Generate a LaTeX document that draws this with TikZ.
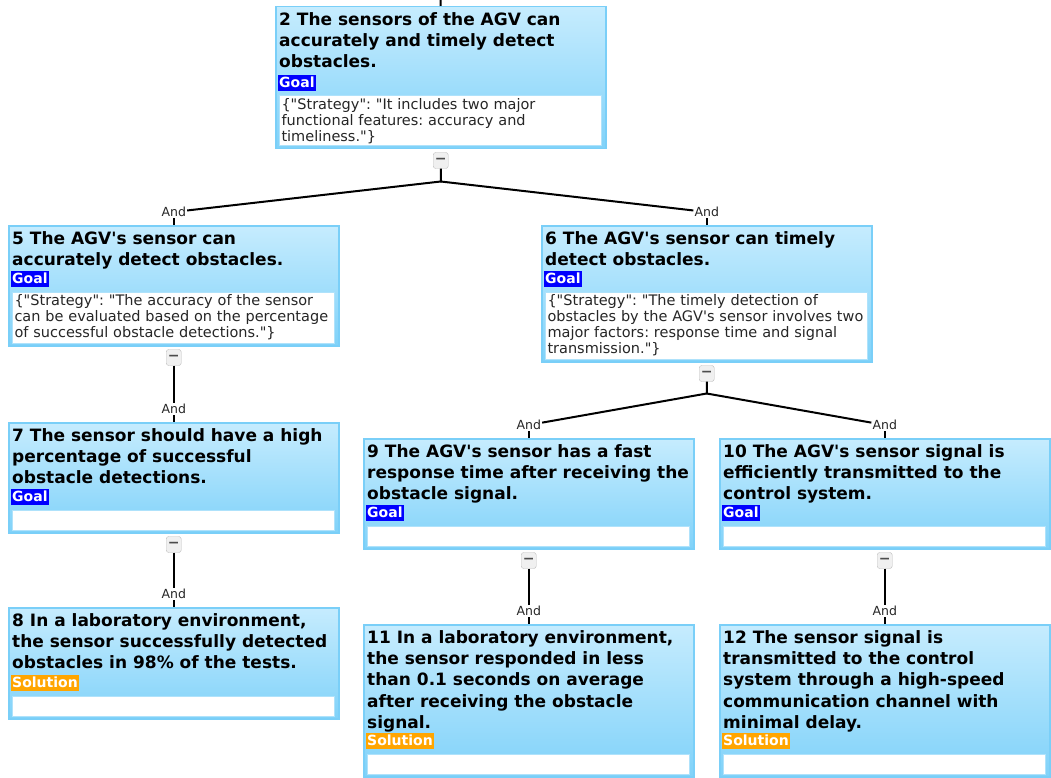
\documentclass[tikz,border=0pt]{standalone}
\usepackage{fontspec}
\setmainfont{DejaVu Sans}[Ligatures=TeXOff]
\usetikzlibrary{positioning}
\definecolor{boxtop}{HTML}{C6ECFE}
\definecolor{boxbot}{HTML}{80D2F9}
\definecolor{boxline}{HTML}{7ACFF8}
\definecolor{goalblue}{HTML}{0000FF}
\definecolor{solorange}{HTML}{FFA500}
\definecolor{btnline}{HTML}{BDBDBD}
\definecolor{btnfill}{HTML}{F0F0F0}

\begin{document}
\frenchspacing
\begin{tikzpicture}[x=1pt, y=-1pt,
		box/.style={draw=boxline, line width=1.5pt, top color=boxtop, bottom color=boxbot, anchor=north west, inner sep=0pt, minimum width=330pt},
		title/.style={anchor=north west, inner sep=0pt, align=left, font=\fontsize{17}{21.4}\selectfont\bfseries},
		goal/.style={fill=goalblue, text=white, font=\fontsize{14}{16}\selectfont\bfseries, inner sep=1pt, text height=11.5pt, text depth=3pt},
		sol/.style={goal, fill=solorange},
		note/.style={draw=boxline!60, line width=1pt, fill=white, anchor=south west, align=left, inner xsep=2pt, inner ysep=2pt, text width=318pt, font=\fontsize{14.5}{16}\selectfont, text=black!85},
		btn/.style={draw=btnline, fill=btnfill, rounded corners=2.5pt, minimum width=15pt, minimum height=16pt, inner sep=0pt, text=black!70, font=\fontsize{14}{14}\selectfont\bfseries},
		andlbl/.style={fill=white, inner sep=1pt, font=\fontsize{12.5}{13}\selectfont, text=black!85},
		conn/.style={line width=2pt, black}
		]
		\useasboundingbox (0,0) rectangle (1051,778);
		
		% Goal 2
		\node[box, minimum height=142pt] (n2) at (275,6) {};
		\node[title] (n2t) at ([xshift=4pt, yshift=-6pt]n2.north west) {2 The sensors of the AGV can\\accurately and timely detect\\obstacles.};
		\node[note, minimum height=50pt] (n2n) at ([xshift=4pt, yshift=3pt]n2.south west) {\{"Strategy": "It includes two major\\functional features: accuracy and\\timeliness."\}};
		\node[goal, above right=4pt and -1pt of n2n.north west] (n2g) {Goal};
		\node[btn] (b2) at ([yshift=-11pt]n2.south) {−};
		\coordinate (j2) at ([yshift=-32pt]n2.south);
		\coordinate (top) at (440.5,0);
		
		% Goal 5
		\node[box, minimum height=120pt] (n5) at (8,225) {};
		\node[title] (n5t) at ([xshift=4pt, yshift=-6pt]n5.north west) {5 The AGV's sensor can\\accurately detect obstacles.};
		\node[note, minimum height=51pt] (n5n) at ([xshift=4pt, yshift=3pt]n5.south west) {\{"Strategy": "The accuracy of the sensor\\can be evaluated based on the percentage\\of successful obstacle detections."\}};
		\node[goal, above right=4pt and -1pt of n5n.north west] (n5g) {Goal};
		\node[btn] (b5) at ([yshift=-11pt]n5.south) {−};
		\node[andlbl] (a5) at ([yshift=13pt]n5.north) {And};
		
		% Goal 6
		\node[box, minimum height=136pt] (n6) at (541,225) {};
		\node[title] (n6t) at ([xshift=4pt, yshift=-6pt]n6.north west) {6 The AGV's sensor can timely\\detect obstacles.};
		\node[note, minimum height=67pt] (n6n) at ([xshift=4pt, yshift=3pt]n6.south west) {\{"Strategy": "The timely detection of\\obstacles by the AGV's sensor involves two\\major factors: response time and signal\\transmission."\}};
		\node[goal, above right=4pt and -1pt of n6n.north west] (n6g) {Goal};
		\node[btn] (b6) at ([yshift=-11pt]n6.south) {−};
		\coordinate (j6) at ([yshift=-31pt]n6.south);
		\node[andlbl] (a6) at ([yshift=13pt]n6.north) {And};
		
		% Goal 7
		\node[box, minimum height=110pt] (n7) at (8,422) {};
		\node[title] (n7t) at ([xshift=4pt, yshift=-6pt]n7.north west) {7 The sensor should have a high\\percentage of successful\\obstacle detections.};
		\node[note, minimum height=20pt] (n7n) at ([xshift=4pt, yshift=3pt]n7.south west) {};
		\node[goal, above right=4pt and -1pt of n7n.north west] (n7g) {Goal};
		\node[btn] (b7) at ([yshift=-11pt]n7.south) {−};
		\node[andlbl] (a7) at ([yshift=13pt]n7.north) {And};
		
		% Solution 8
		\node[box, minimum height=111pt] (n8) at (8,607) {};
		\node[title] (n8t) at ([xshift=4pt, yshift=-6pt]n8.north west) {8 In a laboratory environment,\\the sensor successfully detected\\obstacles in 98\% of the tests.};
		\node[note, minimum height=20pt] (n8n) at ([xshift=4pt, yshift=3pt]n8.south west) {};
		\node[sol, above right=4pt and -1pt of n8n.north west] (n8g) {Solution};
		\node[andlbl] (a8) at ([yshift=13pt]n8.north) {And};
		
		% Goal 9
		\node[box, minimum height=110pt] (n9) at (363,438) {};
		\node[title] (n9t) at ([xshift=4pt, yshift=-6pt]n9.north west) {9 The AGV's sensor has a fast\\response time after receiving the\\obstacle signal.};
		\node[note, minimum height=20pt] (n9n) at ([xshift=4pt, yshift=3pt]n9.south west) {};
		\node[goal, above right=4pt and -1pt of n9n.north west] (n9g) {Goal};
		\node[btn] (b9) at ([yshift=-11pt]n9.south) {−};
		\node[andlbl] (a9) at ([yshift=13pt]n9.north) {And};
		
		% Goal 10
		\node[box, minimum height=110pt] (n10) at (719,438) {};
		\node[title] (n10t) at ([xshift=4pt, yshift=-6pt]n10.north west) {10 The AGV's sensor signal is\\efficiently transmitted to the\\control system.};
		\node[note, minimum height=20pt] (n10n) at ([xshift=4pt, yshift=3pt]n10.south west) {};
		\node[goal, above right=4pt and -1pt of n10n.north west] (n10g) {Goal};
		\node[btn] (b10) at ([yshift=-11pt]n10.south) {−};
		\node[andlbl] (a10) at ([yshift=13pt]n10.north) {And};
		
		% Solution 11
		\node[box, minimum height=152pt] (n11) at (363,624) {};
		\node[title] (n11t) at ([xshift=4pt, yshift=-6pt]n11.north west) {11 In a laboratory environment,\\the sensor responded in less\\than 0.1 seconds on average\\after receiving the obstacle\\signal.};
		\node[note, minimum height=20pt] (n11n) at ([xshift=4pt, yshift=3pt]n11.south west) {};
		\node[sol, above right=4pt and -1pt of n11n.north west] (n11g) {Solution};
		\node[andlbl] (a11) at ([yshift=13pt]n11.north) {And};
		
		% Solution 12
		\node[box, minimum height=152pt] (n12) at (719,624) {};
		\node[title] (n12t) at ([xshift=4pt, yshift=-6pt]n12.north west) {12 The sensor signal is\\transmitted to the control\\system through a high-speed\\communication channel with\\minimal delay.};
		\node[note, minimum height=20pt] (n12n) at ([xshift=4pt, yshift=3pt]n12.south west) {};
		\node[sol, above right=4pt and -1pt of n12n.north west] (n12g) {Solution};
		\node[andlbl] (a12) at ([yshift=13pt]n12.north) {And};
		
		% connectors
		\draw[conn] (top) -- (n2);
		\draw[conn] (b2) -- (j2) -- (a5);
		\draw[conn] (j2) -- (a6);
		\draw[conn] (a5) -- (n5);
		\draw[conn] (a6) -- (n6);
		\draw[conn] (b5) -- (a7) -- (n7);
		\draw[conn] (b7) -- (a8) -- (n8);
		\draw[conn] (b6) -- (j6) -- (a9);
		\draw[conn] (j6) -- (a10);
		\draw[conn] (a9) -- (n9);
		\draw[conn] (a10) -- (n10);
		\draw[conn] (b9) -- (a11) -- (n11);
		\draw[conn] (b10) -- (a12) -- (n12);
		
	\end{tikzpicture}
\end{document}
